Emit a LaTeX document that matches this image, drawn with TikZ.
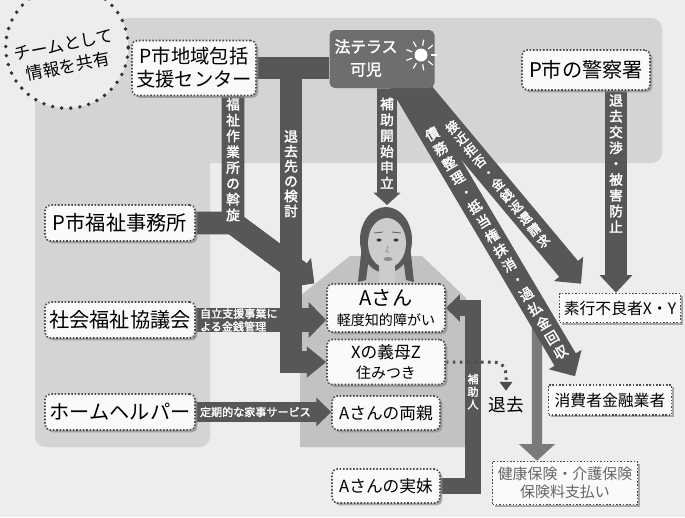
\documentclass[tikz,border=0pt]{standalone}
\usepackage{fontspec}
\setmainfont{Noto Sans CJK JP}[AutoFakeBold=2]
\usetikzlibrary{arrows.meta,shadows,backgrounds}

\definecolor{paper}{gray}{0.93}
\definecolor{zone}{gray}{0.83}
\definecolor{torso}{gray}{0.76}
\definecolor{barc}{gray}{0.34}
\definecolor{skin}{gray}{0.80}

\begin{document}
\begin{tikzpicture}[
  x=0.2mm,y=-0.2mm,
  box/.style={draw=black!70,densely dotted,line width=0.9pt,rounded corners=3pt,fill=gray!4,
    drop shadow={shadow xshift=1.3pt,shadow yshift=-1.3pt,fill=black!45,opacity=0.7},
    align=center,inner sep=1pt,font=\fontsize{11}{13}\selectfont},
  sqbox/.style={box,sharp corners},
  houbox/.style={fill=black!57,rounded corners=3pt,minimum width=21mm,minimum height=11.6mm},
  bar/.style={draw=barc,line width=#1,line join=miter},
  bar/.default=12pt,
  hd/.style 2 args={-{Triangle[width=#1,length=#2]}},
  tate/.style={text=white,inner sep=0pt,align=center,font=\bfseries\fontsize{7.8}{#1}\selectfont},
  tate/.default=9pt,
  yoko/.style={text=white,inner sep=0pt,align=left,font=\bfseries\fontsize{6.3}{7.4}\selectfont},
  dotline/.style={draw=black!70,line width=1.7pt,dash pattern=on 1.5pt off 2.5pt,
    rounded corners=2.4mm,-{Triangle[width=7pt,length=5pt]},shorten >=0.8mm}
]
\useasboundingbox (0,0) rectangle (685,517);

% ---------------- team circle ----------------
\node[circle,draw=black!80,line width=2.2pt,dash pattern=on 0pt off 5.2pt,line cap=round,
  fill=paper,minimum size=24.5mm] (team) at (67,47) {};
\node[rotate=11,align=center,font=\fontsize{9.6}{12.5}\selectfont] (teamtxt) at (66,56)
  {チームとして\\情報を共有};

% ---------------- boxes ----------------
\node[box,minimum width=24.8mm,minimum height=11mm] (cen) at (194,68) {P市地域包括\\支援センター};
\node[houbox] (hou) at (382,59) {};
\node[text=white,align=center,font=\bfseries\fontsize{9}{13}\selectfont] (houname) at (366,58) {法テラス\\可児};
\node[box,minimum width=25.6mm,minimum height=8mm,font=\fontsize{11.5}{13}\selectfont] (kei) at (586,70) {P市の警察署};

\node[box,minimum width=30mm,minimum height=7.2mm,font=\fontsize{11.5}{13}\selectfont] (fuku) at (120,223) {P市福祉事務所};
\node[box,minimum width=30mm,minimum height=7.2mm,font=\fontsize{11.5}{13}\selectfont] (sha) at (120,320) {社会福祉協議会};
\node[box,minimum width=30mm,minimum height=7.2mm,font=\fontsize{11.5}{13}\selectfont] (hh) at (120,412) {ホームヘルパー};

\node[box,minimum width=23.6mm,minimum height=9.6mm,font=\fontsize{8}{11}\selectfont] (a) at (386,308)
  {{\fontsize{11.5}{12}\selectfont Aさん}\\軽度知的障がい};
\node[box,minimum width=23.6mm,minimum height=9mm,font=\fontsize{9.5}{11.5}\selectfont] (z) at (386,362)
  {Xの義母Z\\{\fontsize{8.5}{10}\selectfont 住みつき}};
\node[box,minimum width=21.6mm,minimum height=6.8mm,font=\fontsize{9.5}{11}\selectfont] (ryo) at (386,413) {Aさんの両親};
\node[box,minimum width=21.6mm,minimum height=6.8mm,font=\fontsize{9.5}{11}\selectfont] (imo) at (386,486) {Aさんの実妹};

\node[sqbox,minimum width=24.2mm,minimum height=5.8mm,font=\fontsize{9}{11}\selectfont] (xy) at (620,308) {素行不良者X・Y};
\node[sqbox,minimum width=24.6mm,minimum height=6mm,font=\fontsize{9}{11}\selectfont] (kin) at (610,400) {消費者金融業者};
\node[sqbox,minimum width=29mm,minimum height=8.6mm,font=\fontsize{8.5}{10.5}\selectfont,text=black!60] (hok) at (565,483)
  {健康保険・介護保険\\保険料支払い};
\node[font=\fontsize{10}{12}\selectfont,inner sep=1pt] (taikyo) at (506,405) {退去};

% sun mark
\fill[white] (421,55) circle (1.3mm);
\foreach \a in {0,40,...,320}
  \draw[white,line width=0.7pt] (421,55) ++(\a:1.9mm) -- ++(\a:1.2mm);

\coordinate (j1) at (291,68);
\coordinate (m1) at (233,223);
\coordinate (hj) at (473,308);
\coordinate (face) at (387,205);
\coordinate (br) at (537,322);

\begin{scope}[on background layer]
% ---------------- zones ----------------
\fill[paper] (0,0) rectangle (685,517);
\fill[zone,rounded corners=6pt] (35,18) rectangle (662,163);
\fill[zone,rounded corners=6pt] (35,18) rectangle (210,447);
\fill[torso] (300,447) -- (300,296) -- (350,256) -- (422,256) -- (466,298) -- (466,447) -- cycle;

% ---------------- A ----------------
\fill[black!65] (386,240) ellipse [x radius=5.2mm,y radius=6.6mm];
\fill[black!65] (362,245) -- (358,282) -- (366,280) -- (370,250) -- cycle;
\fill[black!65] (410,245) -- (414,282) -- (406,280) -- (402,250) -- cycle;
\fill[skin] (379,262) rectangle (395,290);
\fill[skin] (387,243) ellipse [x radius=3.8mm,y radius=5mm];
\draw[black!60,line width=0.5pt] (374,233) -- (383,232) (392,232) -- (401,233);
\fill[black!80] (379,240) ellipse [x radius=0.5mm,y radius=0.3mm];
\fill[black!80] (396,240) ellipse [x radius=0.5mm,y radius=0.3mm];
\draw[black!45,line width=0.4pt] (388,246) -- (386,252) -- (389,252);
\fill[black!45] (388,259) ellipse [x radius=0.9mm,y radius=0.4mm];

% ---------------- arrows ----------------
\draw[bar=12.5pt] (cen.east) -- (cen.east -| hou.west);
\draw[bar=12.5pt,hd={17pt}{11pt}] (j1) -- node[tate=8.5pt,pos=0.36] (l-kento) {退\\去\\先\\の\\検\\討}
  (j1 |- z.west) -- (z.west);

\draw[bar=13pt,hd={20pt}{10pt}] (fuku.east) -- (m1) -- ([xshift=-2.4mm]a.north west);
\draw[bar=13pt,hd={20pt}{10pt}] ([xshift=7.8mm]cen.south) -- node[tate,pos=0.5] (l-assen) {福\\祉\\作\\業\\所\\の\\斡\\旋}
  (m1) -- ([xshift=-2.4mm]a.north west);

\draw[bar=14pt,hd={20pt}{10pt}] (sha.east) -- node[yoko,pos=0.33] (l-kinsen) {自立支援事業に\\よる金銭管理}
  (sha.east -| a.west);
\draw[bar=11pt,hd={16pt}{8.5pt}] (hh.east) -- node[yoko,pos=0.44] (l-kaji) {定期的な家事サービス}
  (hh.east -| ryo.west);

\draw[bar=11.3pt,hd={15pt}{7pt}] ([xshift=1mm]hou.south) -- node[tate,pos=0.47] (l-hojo) {補\\助\\開\\始\\申\\立} (face);

\draw[bar=5.7pt,draw=black!52,hd={20pt}{9.5pt}] (br) -- ([xshift=-5.6mm]hok.north);
\draw[bar=14pt,hd={21pt}{11pt}] ([xshift=5.8mm,yshift=1.6mm]hou.south) --
  node[tate=8.3pt,font=\bfseries\fontsize{7.2}{8.3}\selectfont,rotate=38.6,pos=0.51] (l-kyohi)
  {接\\近\\拒\\否\\・\\金\\銭\\返\\還\\請\\求}
  ([xshift=-7.8mm,yshift=1.8mm]xy.north);
\draw[bar=14pt,hd={21pt}{11pt}] ([xshift=3.6mm,yshift=1.6mm]hou.south) --
  node[tate=9.6pt,rotate=30.5,pos=0.55] (l-saimu) {債\\務\\整\\理\\・\\抵\\当\\権\\抹\\消\\・\\過\\払\\金\\回\\収}
  ([xshift=-7mm,yshift=1.6mm]kin.north);

\draw[bar=12.5pt,hd={18pt}{10pt}] ([xshift=6mm]kei.south) --
  node[tate,pos=0.36] (l-keisatsu) {退\\去\\交\\渉\\・\\被\\害\\防\\止} ([xshift=-0.8mm]xy.north);

\draw[bar=9.6pt,hd={15pt}{8pt}] (imo.east) -- (imo.east -| hj) --
  node[tate,font=\bfseries\fontsize{6.3}{7.2}\selectfont,pos=0.53] (l-hojonin) {補\\助\\人} (hj) -- (a.east);

\draw[dotline] (z.east) -| (taikyo.north);
\end{scope}
\end{tikzpicture}
\end{document}
